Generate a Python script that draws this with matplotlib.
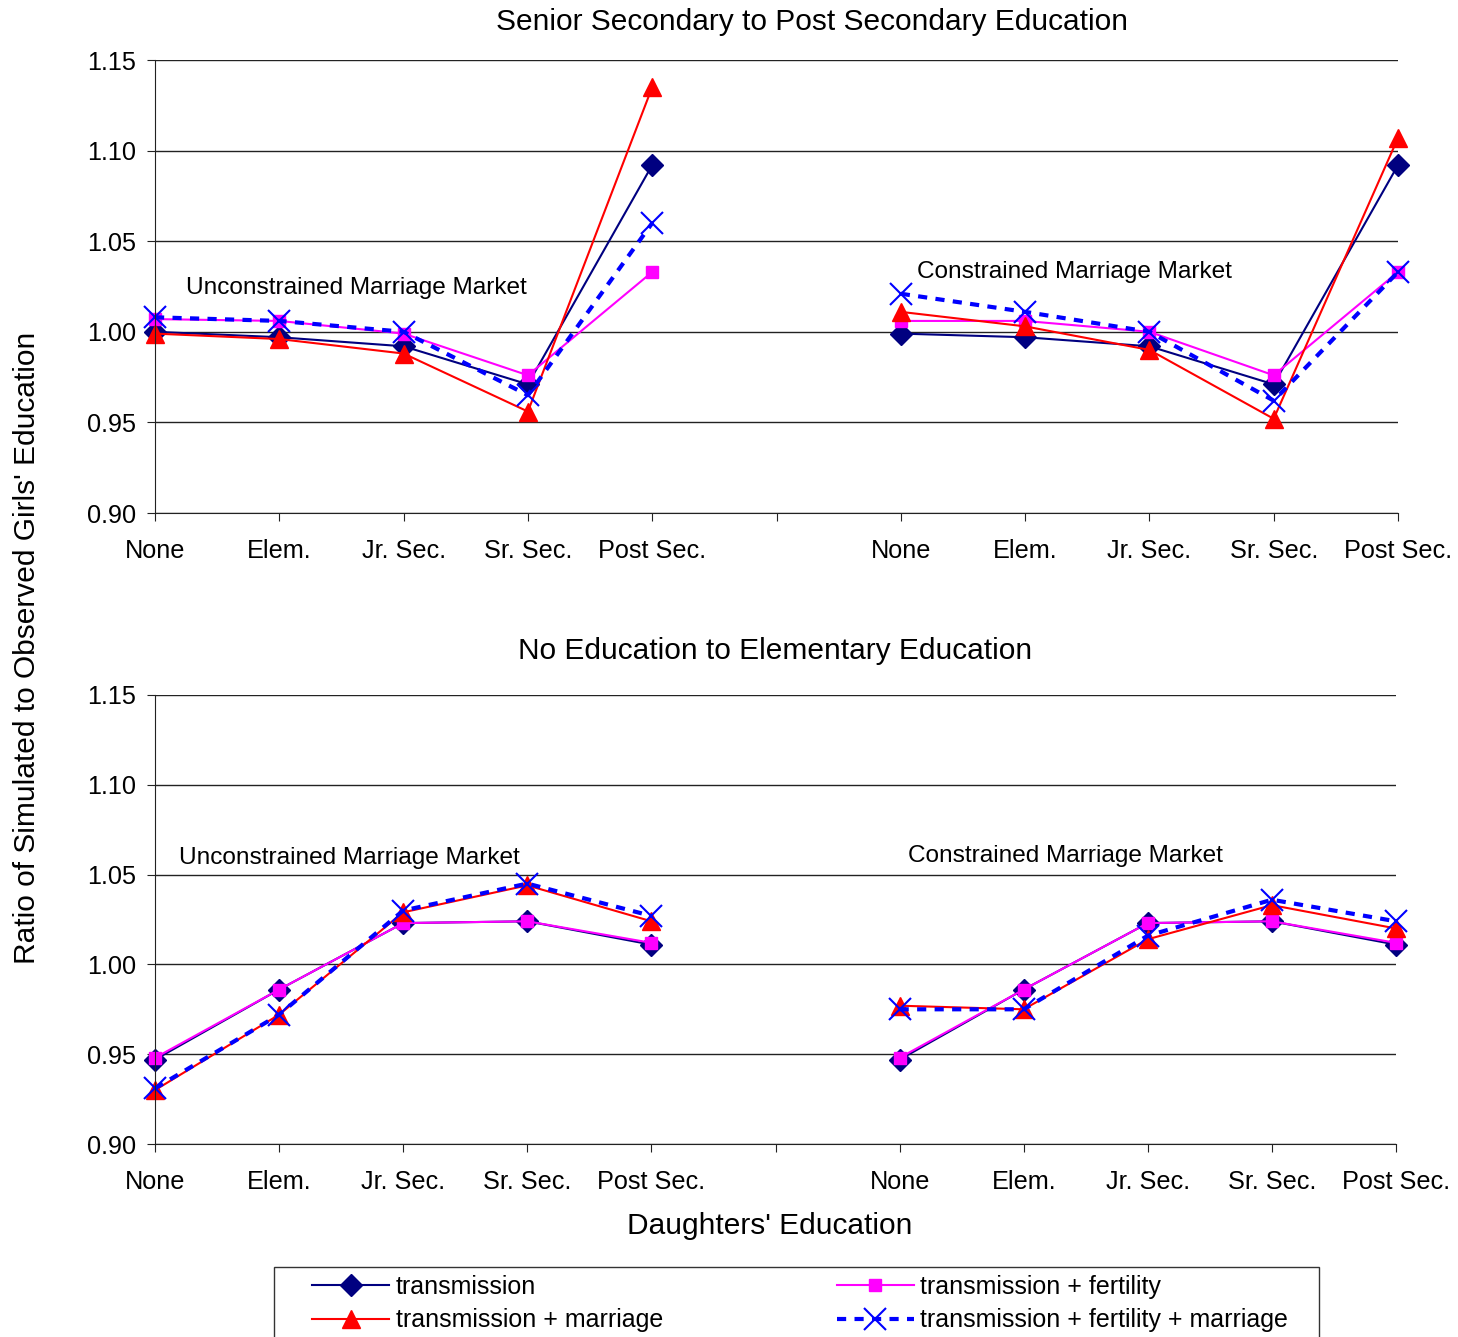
import matplotlib
matplotlib.use("Agg")
import matplotlib.pyplot as plt
from matplotlib.patches import Rectangle
import numpy as np

plt.rcParams['font.family'] = ['Liberation Sans', 'DejaVu Sans']

categories = ["None", "Elem.", "Jr. Sec.", "Sr. Sec.", "Post Sec."]
series_names = ["transmission", "transmission + marriage",
                "transmission + fertility", "transmission + fertility + marriage"]

# Panel 1: Senior Secondary to Post Secondary Education
top_uncon = {
    "transmission": [1.000, 0.997, 0.992, 0.971, 1.092],
    "transmission + fertility": [1.007, 1.006, 0.999, 0.976, 1.033],
    "transmission + marriage": [0.999, 0.996, 0.988, 0.956, 1.135],
    "transmission + fertility + marriage": [1.008, 1.006, 1.000, 0.965, 1.060],
}
top_con = {
    "transmission": [0.999, 0.997, 0.992, 0.971, 1.092],
    "transmission + fertility": [1.006, 1.006, 1.000, 0.976, 1.033],
    "transmission + marriage": [1.011, 1.003, 0.990, 0.952, 1.107],
    "transmission + fertility + marriage": [1.021, 1.011, 1.000, 0.962, 1.033],
}
# Panel 2: No Education to Elementary Education
bot_uncon = {
    "transmission": [0.947, 0.986, 1.023, 1.024, 1.011],
    "transmission + fertility": [0.948, 0.986, 1.023, 1.024, 1.012],
    "transmission + marriage": [0.930, 0.972, 1.029, 1.044, 1.024],
    "transmission + fertility + marriage": [0.931, 0.972, 1.030, 1.045, 1.027],
}
bot_con = {
    "transmission": [0.947, 0.986, 1.023, 1.024, 1.011],
    "transmission + fertility": [0.948, 0.986, 1.023, 1.024, 1.012],
    "transmission + marriage": [0.977, 0.975, 1.014, 1.033, 1.020],
    "transmission + fertility + marriage": [0.975, 0.975, 1.016, 1.036, 1.024],
}

styles = {
    "transmission": dict(color="#000080", marker="D", markersize=11, lw=1.5, ls="-"),
    "transmission + fertility": dict(color="#FF00FF", marker="s", markersize=8.5, lw=1.5, ls="-"),
    "transmission + marriage": dict(color="#FF0000", marker="^", markersize=13.5, lw=1.5, ls="-"),
    "transmission + fertility + marriage": dict(color="#0000FF", marker="x", markersize=16,
                                                 markeredgewidth=1.5, lw=3, ls=(0, (2.2, 2.0))),
}
draw_order = ["transmission", "transmission + fertility", "transmission + marriage",
              "transmission + fertility + marriage"]

TICK_FS = 18.2
NOTE_FS = 17.6
TITLE_FS = 21.5

fig = plt.figure(figsize=(14.58, 13.37), dpi=100)
ax1 = fig.add_axes([155/1458, 1-513/1337, (1398-155)/1458, (513-60)/1337])
ax2 = fig.add_axes([155/1458, 1-1144/1337, (1396-155)/1458, (1144-695)/1337])

xl = np.arange(5)
xr = np.arange(5) + 6
handles = {}
for ax, left, right in [(ax1, top_uncon, top_con), (ax2, bot_uncon, bot_con)]:
    for name in draw_order:
        st = dict(styles[name])
        ls = st.pop("ls")
        lw = st.pop("lw")
        h, = ax.plot(xl, left[name], linestyle=ls, linewidth=lw, clip_on=False, **st)
        ax.plot(xr, right[name], linestyle=ls, linewidth=lw, clip_on=False, **st)
        handles[name] = h
    ax.set_xlim(0, 10)
    ax.set_ylim(0.90, 1.15)
    ax.set_yticks([0.90, 0.95, 1.00, 1.05, 1.10, 1.15])
    ax.set_yticklabels(["0.90", "0.95", "1.00", "1.05", "1.10", "1.15"])
    ax.set_xticks(np.arange(11))
    ax.set_xticklabels(categories + [""] + categories)
    ax.grid(axis="y", color="#222222", lw=1.0)
    ax.set_axisbelow(True)
    for s in ["top", "right"]:
        ax.spines[s].set_visible(False)
    ax.spines["left"].set_color("#222222")
    ax.spines["bottom"].set_color("#222222")
    ax.tick_params(axis="both", direction="out", length=5.5, width=0.8, color="#222222",
                   labelsize=TICK_FS)
    ax.tick_params(axis="y", pad=8)
    ax.tick_params(axis="x", pad=13)

ax1.text(0.25, 1.024, "Unconstrained Marriage Market", fontsize=NOTE_FS, va="center", ha="left")
ax1.text(6.13, 1.033, "Constrained Marriage Market", fontsize=NOTE_FS, va="center", ha="left")
ax2.text(0.19, 1.059, "Unconstrained Marriage Market", fontsize=NOTE_FS, va="center", ha="left")
ax2.text(6.07, 1.0605, "Constrained Marriage Market", fontsize=NOTE_FS, va="center", ha="left")

fig.text(812/1458, 1-22/1337, "Senior Secondary to Post Secondary Education",
         fontsize=TITLE_FS, ha="center", va="center")
fig.text(775/1458, 1-651/1337, "No Education to Elementary Education",
         fontsize=TITLE_FS, ha="center", va="center")
fig.text(27/1458, 1-648/1337, "Ratio of Simulated to Observed Girls' Education",
         fontsize=TITLE_FS, ha="center", va="center", rotation=90)
fig.text(770/1458, 1-1226/1337, "Daughters' Education",
         fontsize=TITLE_FS, ha="center", va="center")

# legend frame
fig.patches.append(Rectangle((274/1458, -0.01), (1319-274)/1458, (1337-1267)/1337 + 0.01,
                             transform=fig.transFigure, fill=False, edgecolor="#333333",
                             lw=1.0, zorder=0))
leg = fig.legend([handles[n] for n in series_names], series_names,
                 ncol=2, loc="upper left",
                 bbox_to_anchor=(308/1458, 1-1271/1337),
                 fontsize=18, frameon=False, handlelength=3.1, handletextpad=0.25,
                 borderaxespad=0, borderpad=0.15, labelspacing=0.38, columnspacing=6.95)

fig.savefig("out.png", dpi=100)
